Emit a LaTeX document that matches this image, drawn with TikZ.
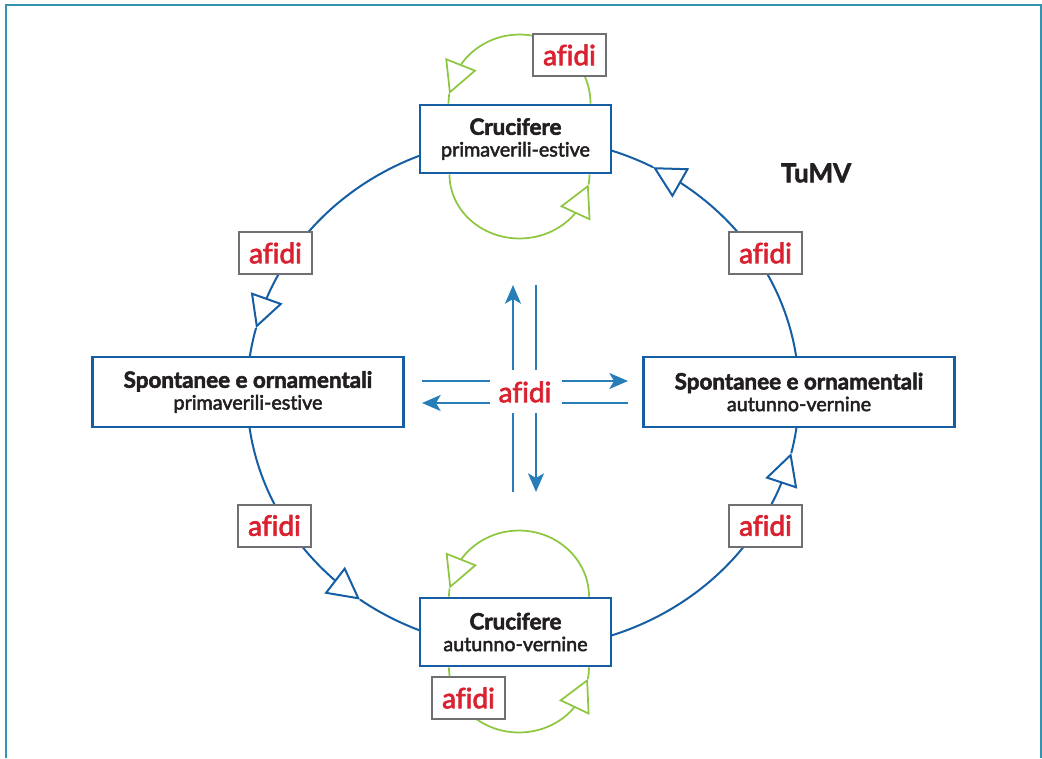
\documentclass[tikz,border=0pt]{standalone}
\usepackage{fontspec}
\setmainfont{Lato}[Ligatures=NoCommon]
\newfontfamily\subfont{Lato}[Ligatures=NoCommon, FakeBold=2.5]
\newfontfamily\heavyfont{Lato}[BoldFeatures={FakeBold=2}]
\usetikzlibrary{arrows.meta,bending,calc}

\definecolor{ringblue}{RGB}{22,94,164}
\definecolor{hubblue}{RGB}{38,125,184}
\definecolor{vecgreen}{RGB}{141,198,63}
\definecolor{aphidred}{RGB}{218,33,48}
\definecolor{tagframe}{RGB}{112,112,114}
\definecolor{framecol}{RGB}{52,148,175}
\definecolor{ink}{RGB}{35,31,32}

\newcommand\headfont{\bfseries\fontsize{16.8}{16.3}\selectfont}
\newcommand\subline{\subfont\fontsize{14.8}{16.3}\selectfont}
\newcommand\tagfont{\subfont\fontsize{21}{24}\selectfont}

\begin{document}
\begin{tikzpicture}[x=0.75pt, y=-0.75pt,
  hostbox/.style={draw=ringblue, line width=2.2pt, fill=white, align=center,
    inner sep=0pt, text=ink, font=\subline},
  cropbox/.style={hostbox, minimum width=143.25pt, minimum height=51pt},
  wildbox/.style={hostbox, minimum width=233pt, minimum height=52.5pt},
  aphidtag/.style={draw=tagframe, line width=1.5pt, fill=white,
    minimum width=54.75pt, minimum height=31.5pt, inner sep=0pt,
    text=aphidred, font=\tagfont},
  ringline/.style={draw=ringblue, line width=1.5pt},
  vecline/.style={draw=vecgreen, line width=1.3pt},
  hubline/.style={draw=hubblue, line width=1.5pt},
  opentip/.style={-{Triangle[open, length=24pt, width=25pt]}},
  hubtip/.style={-{Stealth[length=14pt, width=12pt, inset=3.5pt]}},
  ringarc/.style={x radius=276, y radius=256},
]
\useasboundingbox (0,0) rectangle (1042,758);

% outer frame, open at the bottom
\draw[framecol, line width=1.5pt] (6,758) -- (6,5) -- (1041,5) -- (1041,758);

% host plant groups
\node[cropbox] (tbox) at (515.5,139) {{\headfont Crucifere}\\primaverili-estive};
\node[cropbox] (bbox) at (515.5,632) {{\headfont Crucifere}\\autunno-vernine};
\node[wildbox] (lbox) at (248,392) {{\headfont Spontanee e ornamentali}\\primaverili-estive};
\node[wildbox] (rbox) at (799,392) {{\headfont Spontanee e ornamentali}\\autunno-vernine};

\node[text=ink, font=\heavyfont\bfseries\fontsize{19.5}{22}\selectfont] (virus) at (816,173) {TuMV};

% seasonal cycle between the four groups
\coordinate (E) at (523,393);
% autumn-winter wild hosts -> spring-summer crucifers
\draw[ringline, opentip] ($(E)+(-8.08:276 and 256)$) arc[ringarc, start angle=-8.08, end angle=-61.9];
\draw[ringline] ($(E)+(-61.9:276 and 256)$) arc[ringarc, start angle=-61.9, end angle=-71.41];
% spring-summer crucifers -> spring-summer wild hosts
\draw[ringline, opentip] ($(E)+(-111.9:276 and 256)$) arc[ringarc, start angle=-111.9, end angle=-165.3];
\draw[ringline] ($(E)+(-165.3:276 and 256)$) arc[ringarc, start angle=-165.3, end angle=-171.92];
% spring-summer wild hosts -> autumn-winter crucifers
\draw[ringline, opentip] ($(E)+(172.37:276 and 256)$) arc[ringarc, start angle=172.37, end angle=126.2];
\draw[ringline] ($(E)+(126.2:276 and 256)$) arc[ringarc, start angle=126.2, end angle=111.9];
% autumn-winter crucifers -> autumn-winter wild hosts
\draw[ringline, opentip] ($(E)+(71.41:276 and 256)$) arc[ringarc, start angle=71.41, end angle=13.56];
\draw[ringline] ($(E)+(13.56:276 and 256)$) arc[ringarc, start angle=13.56, end angle=7.63];

% spread within the crucifers
\coordinate (ta) at ($(tbox.north)+(4,0)$);
\coordinate (tb) at ($(tbox.south)+(4,0)$);
\coordinate (ba) at ($(bbox.north)+(3.5,0)$);
\coordinate (bb) at ($(bbox.south)+(3.5,0)$);
\draw[vecline, opentip] ($(ta)+(0:71 and 69)$) arc[x radius=71, y radius=69, start angle=0, end angle=-172];
\draw[vecline] ($(ta)+(-172:71 and 69)$) arc[x radius=71, y radius=69, start angle=-172, end angle=-180];
\draw[vecline, opentip] ($(tb)+(180:70 and 64)$) arc[x radius=70, y radius=64, start angle=180, end angle=9];
\draw[vecline] ($(tb)+(9:70 and 64)$) arc[x radius=70, y radius=64, start angle=9, end angle=0];
\draw[vecline, opentip] ($(ba)+(0:70 and 66)$) arc[x radius=70, y radius=66, start angle=0, end angle=-173];
\draw[vecline] ($(ba)+(-173:70 and 66)$) arc[x radius=70, y radius=66, start angle=-173, end angle=-180];
\draw[vecline, opentip] ($(bb)+(180:70 and 65)$) arc[x radius=70, y radius=65, start angle=180, end angle=10];
\draw[vecline] ($(bb)+(10:70 and 65)$) arc[x radius=70, y radius=65, start angle=10, end angle=0];

% vector labels
\node[aphidtag] (a1) at (275.5,253) {afidi};
\node[aphidtag] (a2) at (765.5,253) {afidi};
\node[aphidtag] (a3) at (274.5,525.5) {afidi};
\node[aphidtag] (a4) at (765.5,525.5) {afidi};
\node[aphidtag] (a5) at (569.5,55) {afidi};
\node[aphidtag] (a6) at (468.5,698) {afidi};

% central exchange
\node[text=aphidred, font=\tagfont] (hub) at (525,392) {afidi};
\coordinate (upA) at (513,370); \coordinate (upB) at (513,285);
\coordinate (upC) at (536,285); \coordinate (upD) at (536,370);
\coordinate (dnA) at (513,413); \coordinate (dnB) at (513,492);
\coordinate (dnC) at (536,413); \coordinate (dnD) at (536,492);
\coordinate (ltA) at (490,381); \coordinate (ltB) at (422,381);
\coordinate (ltC) at (490,403); \coordinate (ltD) at (422,403);
\coordinate (rtA) at (562,381); \coordinate (rtB) at (628,381);
\coordinate (rtC) at (562,403); \coordinate (rtD) at (628,403);
\draw[hubline, hubtip] (upA) -- (upB);
\draw[hubline] (upC) -- (upD);
\draw[hubline] (dnA) -- (dnB);
\draw[hubline, hubtip] (dnC) -- (dnD);
\draw[hubline] (ltB) -- (ltA);
\draw[hubline, hubtip] (ltC) -- (ltD);
\draw[hubline, hubtip] (rtA) -- (rtB);
\draw[hubline] (rtC) -- (rtD);
\end{tikzpicture}
\end{document}
